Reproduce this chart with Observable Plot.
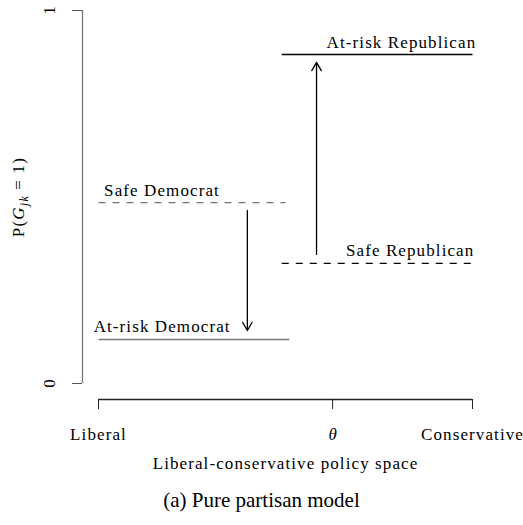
<!DOCTYPE html>
<html><head><meta charset="utf-8">
<script src="https://cdn.jsdelivr.net/npm/d3@7"></script>
<script src="https://cdn.jsdelivr.net/npm/@observablehq/plot@0.6"></script>
<style>
body{margin:0;background:#fff;}
#caption{width:523px;text-align:center;font-family:"Liberation Serif",serif;font-size:21px;line-height:24px;margin-top:6px;color:#000;}
</style></head><body><div id="chart"></div><script>
// Voter-type segments
const series = ["Safe Democrat", "At-risk Democrat", "At-risk Republican", "Safe Republican"];
const probability = [0.485, 0.118, 0.882, 0.322];
const rangeStart = [0, 0, 0.49, 0.49];
const rangeEnd = [0.5, 0.51, 1, 1];
const labelX = [0.015, -0.013, 1.01, 1.005];
// Arrows (shift between safe and at-risk)
const arrowX = [0.398, 0.583];
const arrowFrom = [0.464, 0.346];
const arrowTo = [0.142, 0.861];
// Axis ticks
const xTickValues = [0, 0.626, 1];
const xTickLabels = ["Liberal", "θ", "Conservative"];
const yTickValues = [0, 1];
const yTickLabels = ["0", "1"];

const segs = series.map((s, i) => ({s, y: probability[i], x1: rangeStart[i], x2: rangeEnd[i], lx: labelX[i]}));
const arrows = arrowX.map((x, i) => ({x, y1: arrowFrom[i], y2: arrowTo[i]}));
const colorOf = {"Safe Democrat": "#777", "At-risk Democrat": "#777", "At-risk Republican": "#000", "Safe Republican": "#000"};
const dashOf = {"Safe Democrat": "7,7", "At-risk Democrat": null, "At-risk Republican": null, "Safe Republican": "7,7"};
const F = "Liberation Serif, serif";

const marks = [];
for (const s of series) {
  const d = segs.filter(e => e.s === s);
  marks.push(Plot.link(d, {x1: "x1", x2: "x2", y1: "y", y2: "y", stroke: colorOf[s], strokeWidth: s.includes("Republican") ? 1.4 : 1.3, strokeDasharray: dashOf[s]}));
}
marks.push(Plot.text(segs.filter(e => e.s.includes("Democrat")), {x: "lx", y: "y", text: "s", textAnchor: "start", lineAnchor: "bottom", dy: -7, fontSize: 17, fontFamily: F, fill: "#000"}));
marks.push(Plot.text(segs.filter(e => e.s.includes("Republican")), {x: "lx", y: "y", text: "s", textAnchor: "end", lineAnchor: "bottom", dy: -7, fontSize: 17, fontFamily: F, fill: "#000"}));
marks.push(Plot.arrow(arrows, {x1: "x", x2: "x", y1: "y1", y2: "y2", stroke: "#000", strokeWidth: 1.3, headLength: 11, headAngle: 60, bend: 0}));
// axes
marks.push(Plot.ruleX([0], {y1: 0, y2: 1, dx: -16, stroke: "#777", strokeWidth: 1.3}));
marks.push(Plot.axisY({ticks: yTickValues, tickFormat: (d, i) => yTickLabels[i], tickSize: 10, dx: -16, tickPadding: 18, tickRotate: -90, label: null, stroke: "#555", fontSize: 17, fontFamily: F, fill: "#000"}));
marks.push(Plot.ruleY([0], {x1: 0, x2: 1, dy: 16, stroke: "#222", strokeWidth: 1.3}));
marks.push(Plot.axisX({ticks: xTickValues, tickFormat: (d, i) => xTickLabels[i], tickSize: 10, dy: 16, tickPadding: 18, label: null, stroke: "#222", fontSize: 17, fontFamily: F, fill: "#000"}));
marks.push(Plot.text(["Liberal-conservative policy space"], {frameAnchor: "bottom", dy: 85, fontSize: 17, fontFamily: F, fill: "#000"}));
marks.push(Plot.text(["P(G = 1)"], {frameAnchor: "left", textAnchor: "middle", dx: -80, rotate: -90, fontSize: 17, fontFamily: F, fill: "#000"}));

const svg = Plot.plot({
  width: 523, height: 482,
  marginTop: 10, marginBottom: 99, marginLeft: 98, marginRight: 51,
  x: {domain: [0, 1]},
  y: {domain: [0, 1]},
  style: {fontFamily: F, background: "#fff", overflow: "visible"},
  marks
});
// Typeset math pieces and widen letterforms a little
d3.select(svg).selectAll("text").each(function() {
  const t = d3.select(this);
  const txt = t.text();
  if (txt === "P(G = 1)") {
    const target = t.select("tspan").empty() ? t : t.select("tspan");
    target.text("");
    target.append("tspan").text("P(");
    target.append("tspan").attr("font-style", "italic").text("G");
    target.append("tspan").attr("font-style", "italic").attr("font-size", "12").attr("dy", "4").text("jk");
    target.append("tspan").attr("dy", "-4").text(" = 1)");
    t.attr("letter-spacing", "1.2");
  } else if (txt === "θ") {
    t.attr("font-style", "italic");
  } else if (txt.length > 1) {
    t.attr("letter-spacing", "1.1");
  }
});
document.getElementById("chart").append(svg);
const cap = document.createElement("div");
cap.id = "caption";
cap.textContent = "(a) Pure partisan model";
document.getElementById("chart").append(cap);
</script></body></html>
